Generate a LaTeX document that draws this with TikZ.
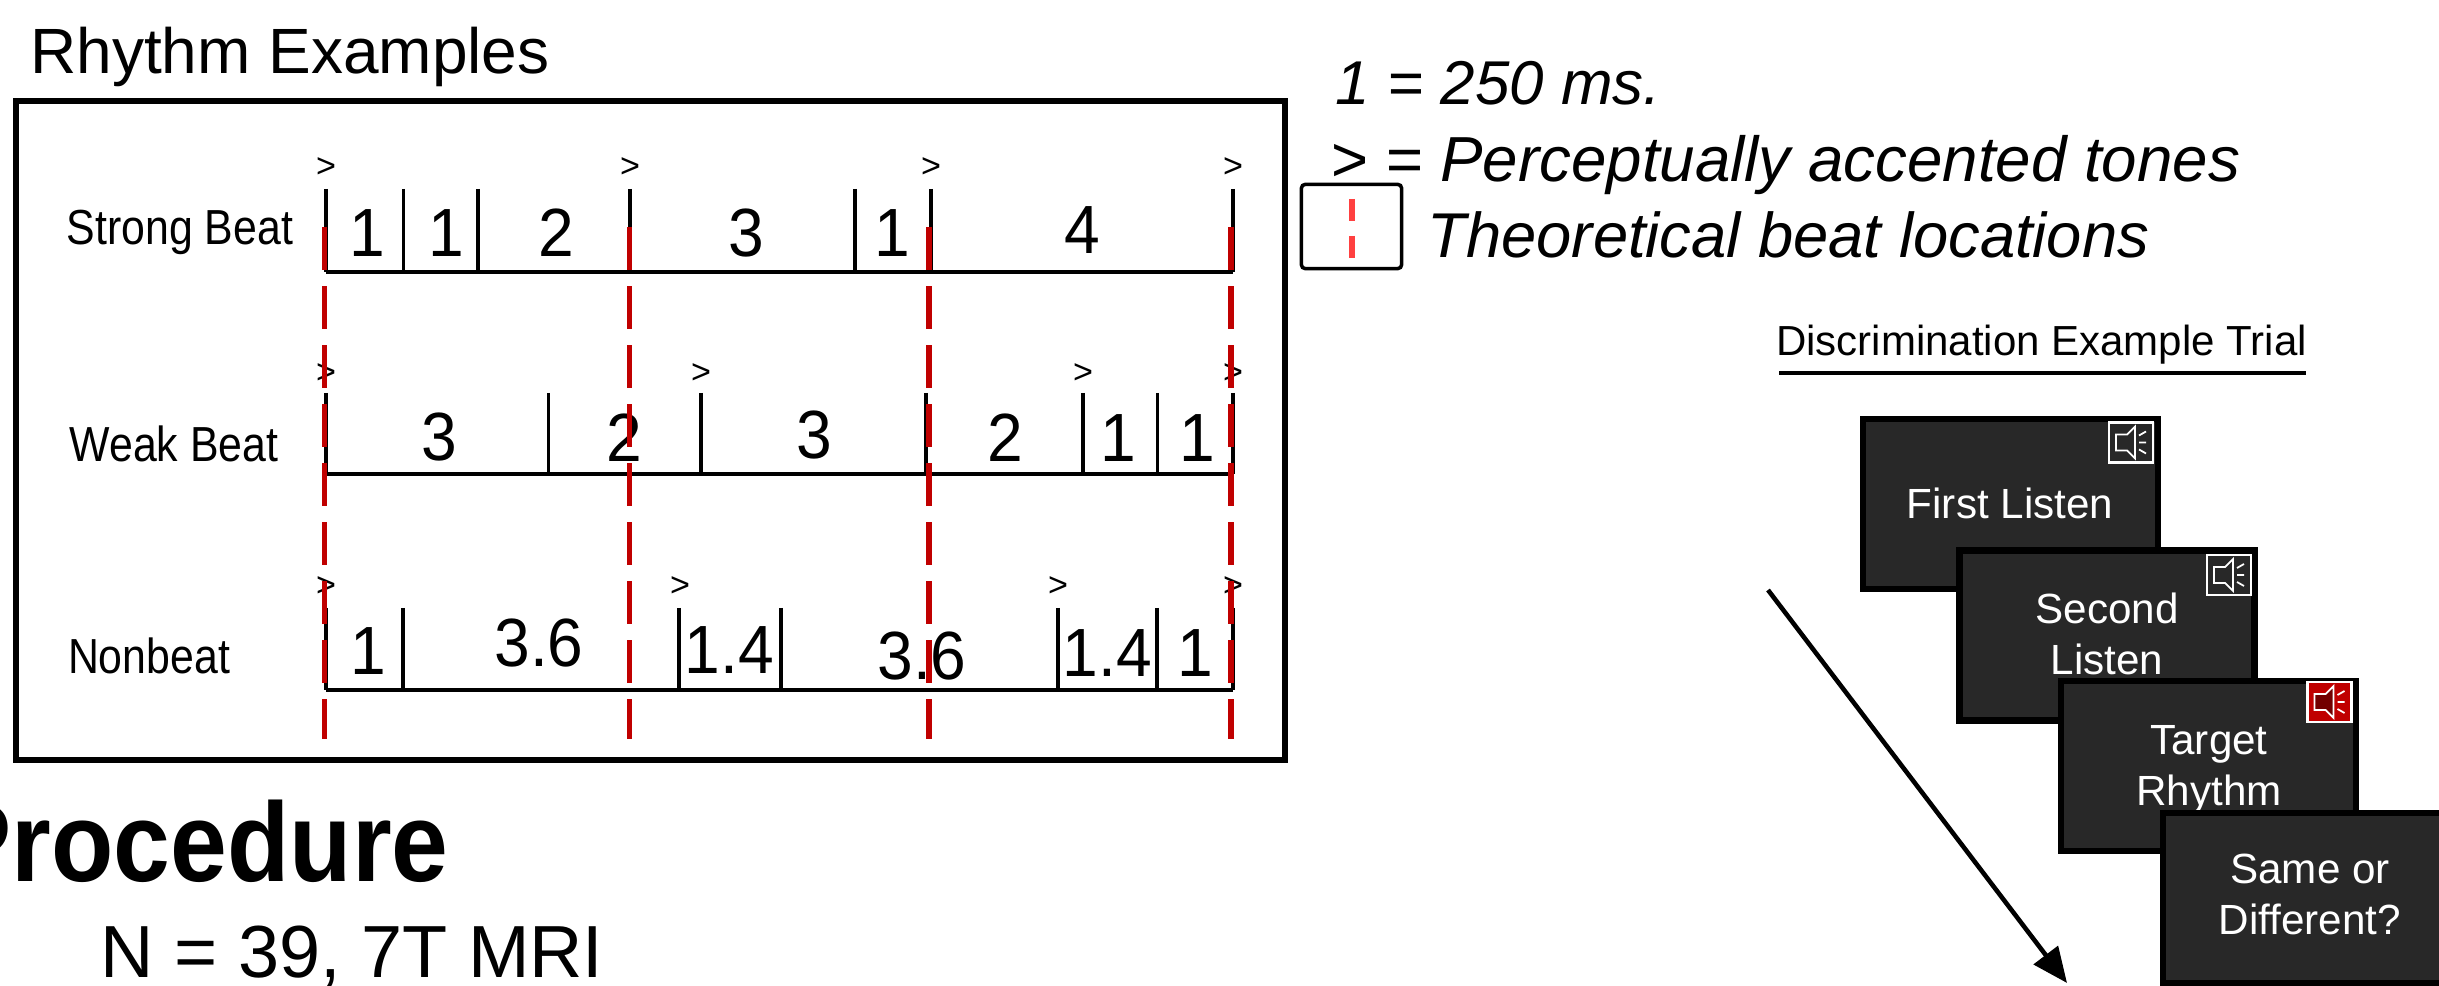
\documentclass[tikz,border=0pt]{standalone}
\usepackage{fontspec}
\usepackage{xcolor}
\setmainfont{Liberation Sans}
\newfontfamily\narrowfont[FakeStretch=0.87]{Liberation Sans}
\newfontfamily\squeezefont[FakeStretch=0.907]{Liberation Sans}
\newfontfamily\numfont[FakeStretch=0.94]{Liberation Sans}
\usetikzlibrary{arrows.meta,positioning}
\definecolor{beatred}{HTML}{C00000}
\definecolor{legendred}{HTML}{FF4040}
\definecolor{screen}{HTML}{282828}
\newcommand{\fsz}[1]{\fontsize{#1}{#1}\selectfont}
% speaker symbol: centre, box fill, cone fill
\newcommand{\speakericon}[3]{
  \begin{scope}[shift={(#1)}]
    \draw[draw=white, line width=0.6pt, fill=#2] (-22,-20) rectangle (22,20);
    \draw[draw=white, line width=0.5pt, fill=#3]
      (-15,-8) -- (-4,-8) -- (4,-16) -- (4,16) -- (-4,8) -- (-15,8) -- cycle;
    \draw[draw=white, line width=0.5pt]
      (8,-7) -- (15,-11) (8,0) -- (15,0) (8,7) -- (15,11);
  \end{scope}
}

\begin{document}
\begin{tikzpicture}[
  x=0.01cm, y=-0.01cm,
  heading/.style={inner sep=0pt, font=\fsz{18.2}},
  legend/.style={inner sep=0pt, anchor=base west, font=\itshape},
  rowlbl/.style={inner sep=0pt, font=\narrowfont\fsz{14}},
  accent/.style={inner sep=0pt, font=\fsz{9.7}},
  beatnum/.style={inner sep=0pt, font=\numfont\fsz{19.4}},
  tickline/.style={line width=1pt},
  baseline/.style={line width=1pt},
  beatline/.style={draw=beatred, line width=1.45pt, dash pattern=on 12.1pt off 4.69pt},
  trialbox/.style={rectangle, draw=black, fill=screen, line width=1.85pt,
                   minimum width=2.945cm, minimum height=1.695cm, inner sep=0pt},
  trialtxt/.style={inner sep=0pt, text=white, align=center, font=\fontsize{12}{14.5}\selectfont},
]
\useasboundingbox (0,0) rectangle (2439,986);
\clip (0,0) rectangle (2439,986);

\node[heading] (rhythmtitle) at (290,57) {Rhythm Examples};
\node[draw, line width=1.75pt, minimum width=12.68cm, minimum height=6.58cm, inner sep=0pt]
  (rhythmframe) at (650.5,430.5) {};

\node[rowlbl] (strong) at (180,232) {Strong Beat};
\node[rowlbl] (weak)   at (174,444) {Weak Beat};
\node[rowlbl] (nonb)   at (149,656) {Nonbeat};

% ticks and base lines
\foreach \x in {326,403.5,478,630,855,931,1233}
  \draw[tickline] (\x,189) -- (\x,272);
\foreach \x in {326,548.6,701,926,1083,1157.5,1233}
  \draw[tickline] (\x,393) -- (\x,474);
\foreach \x in {326,403,679,781,1058,1157,1233}
  \draw[tickline] (\x,608) -- (\x,690);
\foreach \y in {272,474,690}
  \draw[baseline] (326,\y) -- (1233,\y);

% accents
\foreach \x [count=\i] in {326,630,931,1233}
  \node[accent] (acca\i) at (\x,168) {>};
\foreach \x [count=\i] in {326,701,1083,1233}
  \node[accent] (accb\i) at (\x,374) {>};
\foreach \x [count=\i] in {326,680,1058,1233}
  \node[accent] (accc\i) at (\x,587) {>};

% durations
\foreach \x/\y/\t [count=\i] in {367/233/1,446/233/1,556/233/2,746/233/3,892.5/233/1,1082/230/4}
  \node[beatnum] (numa\i) at (\x,\y) {\t};
\foreach \x/\y/\t [count=\i] in {439/437/3,624/438/2,814/435/3,1005/438/2,1118/438/1,1197/438/1}
  \node[beatnum] (numb\i) at (\x,\y) {\t};
\foreach \x/\y/\t [count=\i] in {368/651/1,539/643/3.6,729.5/650/1.4,922/656/3.6,1107.5/653/1.4,1195/653/1}
  \node[beatnum] (numc\i) at (\x,\y) {\t};

% beat locations
\foreach \x in {324.5,629.5,929,1231}
  \draw[beatline] (\x,227) -- (\x,739);

% legend
\node[legend, font=\itshape\fsz{17.6}] (legone) at (1335,105) {1 = 250 ms.};
\node[legend, font=\itshape\fsz{18.1}] (legtwo) at (1330,182) {> = Perceptually accented tones};
\node[legend, font=\itshape\fsz{18}] (legthree) at (1427,258) {Theoretical beat locations};
\node[draw, line width=1pt, rounded corners=1pt, minimum width=1cm, minimum height=0.84cm, inner sep=0pt]
  (legbox) at (1351.5,226.5) {};
\draw[draw=legendred, line width=1.45pt, dash pattern=on 6.2pt off 4.3pt]
  (1352,199) -- (1352,258);

% procedure
\node[inner sep=0pt, anchor=base west, font=\squeezefont\bfseries\fsz{32}] (proc) at (-57,882) {Procedure};
\node[inner sep=0pt, anchor=base west, font=\fsz{21}] (sample) at (100,978) {N = 39, 7T MRI};

% trial
\node[inner sep=0pt, font=\fsz{11.95}] (trialtitle) at (2041.5,345) {Discrimination Example Trial};
\coordinate (ulstart) at (1779,373);
\coordinate (ulend) at (2306,373);
\draw[line width=1.1pt] (ulstart) -- (ulend);

\node[trialbox] (scrone) at (2010.5,504) {};
\node[trialtxt] (txtone) at (2010,503) {First Listen};
\speakericon{2131,442.5}{screen}{screen}
\node[trialbox] (scrtwo) at (2107,635.5) {};
\node[trialtxt] (txttwo) at (2107,634) {Second\\Listen};
\speakericon{2229,575}{screen}{screen}
\node[trialbox] (scrthree) at (2208.5,766) {};
\node[trialtxt] (txtthree) at (2209,770) {Target\\Rhythm};
\speakericon{2329.5,702}{beatred}{beatred!60!black}
\node[trialbox] (scrfour) at (2310.5,898) {};
\node[trialtxt] (txtfour) at (2310,894.5) {Same or\\Different?};

\coordinate (arrstart) at (1768,590);
\coordinate (arrend) at (2067,983);
\draw[line width=1.3pt, -{Triangle[length=10pt,width=8.5pt]}] (arrstart) -- (arrend);
\end{tikzpicture}
\end{document}
